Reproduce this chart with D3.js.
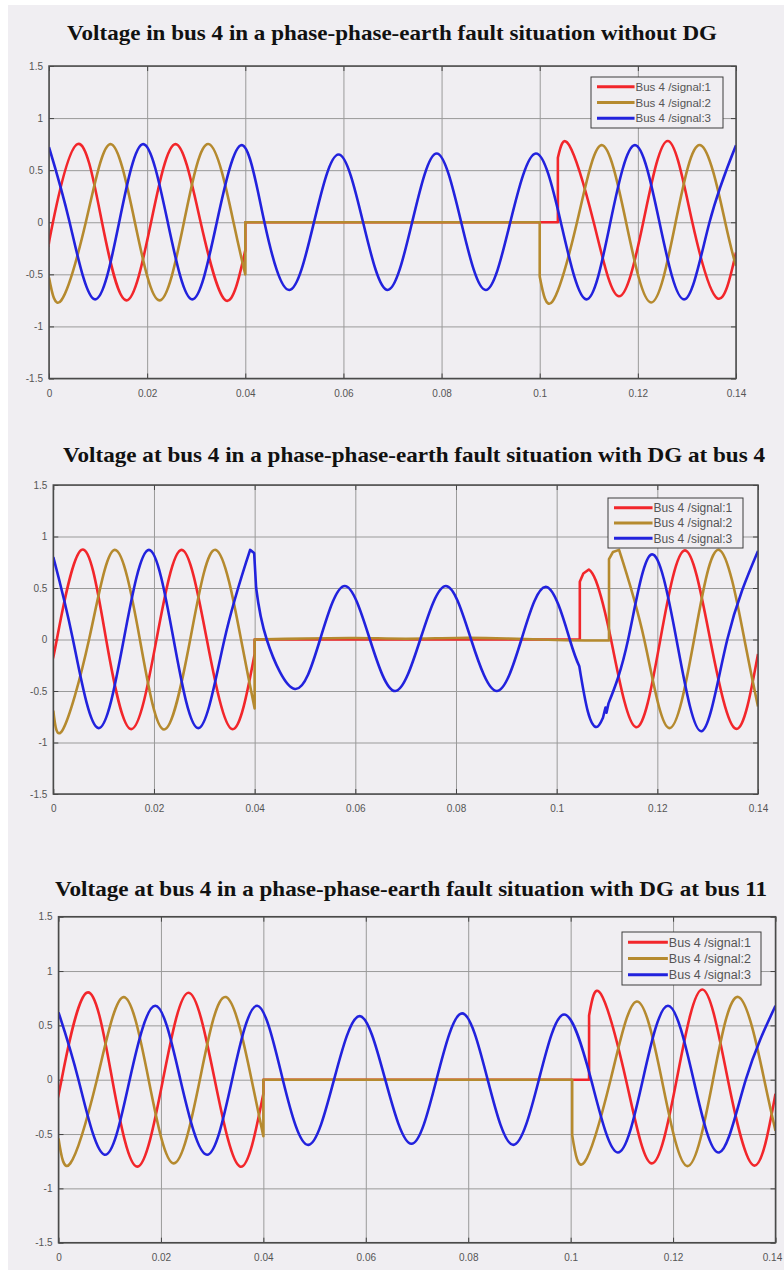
<!DOCTYPE html>
<html>
<head>
<meta charset="utf-8">
<script src="https://cdn.jsdelivr.net/npm/d3@7/dist/d3.min.js"></script>
<style>
    body { margin: 0; background: #ffffff; }
    svg { display: block; }
</style>
</head>
<body>
<svg id="chart" width="784" height="1270"></svg>
<script>
var titles = [
    'Voltage in bus 4 in a phase-phase-earth fault situation without DG',
    'Voltage at bus 4 in a phase-phase-earth fault situation with DG at bus 4',
    'Voltage at bus 4 in a phase-phase-earth fault situation with DG at bus 11'
];
var legendLabels = ['Bus 4 /signal:1', 'Bus 4 /signal:2', 'Bus 4 /signal:3'];
var xTicks = [0, 0.02, 0.04, 0.06, 0.08, 0.1, 0.12, 0.14];
var xTickLabels = ['0', '0.02', '0.04', '0.06', '0.08', '0.1', '0.12', '0.14'];
var yTicks = [-1.5, -1, -0.5, 0, 0.5, 1, 1.5];
var yTickLabels = ['-1.5', '-1', '-0.5', '0', '0.5', '1', '1.5'];

// each signal = list of pieces of [time (s), voltage].
// a piece is drawn smooth, pieces are joined by straight lines (the jumps)

// without DG
var noDgSignal1 = [
    [[0, -0.22], [0.0008, 0], [0.0058, 0.75], [0.0108, 0], [0.0158, -0.75], [0.0208, 0], [0.0258, 0.75], [0.0309, 0], [0.036, -0.75], [0.04, -0.27]],
    [[0.04, 0], [0.1037, 0]],
    [[0.1037, 0.62], [0.106, 0.74], [0.111, 0], [0.1161, -0.71], [0.1211, 0], [0.1261, 0.78], [0.1311, 0], [0.1362, -0.73], [0.14, -0.29]]
];
var noDgSignal2 = [
    [[0, -0.53], [0.0025, -0.75], [0.0075, 0], [0.0125, 0.75], [0.0175, 0], [0.0225, -0.75], [0.0275, 0], [0.0326, 0.75], [0.0376, 0], [0.04, -0.5]],
    [[0.04, 0], [0.1, 0]],
    [[0.1, -0.52], [0.1026, -0.76], [0.1076, 0], [0.1126, 0.74], [0.1176, 0], [0.1227, -0.77], [0.1277, 0], [0.1328, 0.74], [0.1378, 0], [0.14, -0.42]]
];
var noDgSignal3 = [
    [[0, 0.72], [0.0042, 0], [0.0093, -0.74], [0.0143, 0], [0.0192, 0.75], [0.0242, 0], [0.0292, -0.74], [0.0342, 0], [0.0393, 0.74], [0.0439, 0],
        [0.049, -0.65], [0.054, 0], [0.059, 0.65], [0.064, 0], [0.069, -0.65], [0.074, 0], [0.079, 0.66], [0.084, 0], [0.089, -0.65], [0.094, 0],
        [0.0992, 0.66], [0.1043, 0], [0.1095, -0.74], [0.1144, 0], [0.1194, 0.74], [0.1244, 0], [0.1295, -0.74], [0.1346, 0], [0.14, 0.74]]
];

// DG at bus 4
var dgBus4Signal1 = [
    [[0, -0.13], [0.0007, 0], [0.0056, 0.87], [0.0105, 0], [0.0155, -0.87], [0.0205, 0], [0.0255, 0.87], [0.0305, 0], [0.0355, -0.87], [0.04, -0.14]],
    [[0.04, 0], [0.1046, 0]],
    [[0.1046, 0.56]],
    [[0.1053, 0.64]],
    [[0.1064, 0.68], [0.1078, 0.57], [0.1108, 0], [0.1157, -0.85], [0.1206, 0], [0.1255, 0.865], [0.1305, 0], [0.1356, -0.867], [0.14, -0.14]]
];
var dgBus4Signal2 = [
    [[0, -0.69], [0.0019, -0.874], [0.0071, 0], [0.0122, 0.87], [0.0172, 0], [0.022, -0.874], [0.0272, 0], [0.0323, 0.87], [0.0373, 0], [0.04, -0.67]],
    [[0.04, 0], [0.05, 0.01], [0.06, 0.015], [0.07, 0.008], [0.08, 0.015], [0.09, 0.01], [0.1, -0.005], [0.1104, -0.01]],
    [[0.1104, 0.78]],
    [[0.1112, 0.85]],
    [[0.1124, 0.87], [0.1174, 0], [0.1223, -0.86], [0.1273, 0], [0.1323, 0.87], [0.1373, 0], [0.14, -0.65]]
];
var dgBus4Signal3 = [
    [[0, 0.8], [0.0039, 0], [0.0089, -0.86], [0.014, 0], [0.019, 0.87], [0.0239, 0], [0.0289, -0.86], [0.034, 0], [0.0391, 0.87]],
    [[0.0399, 0.84]],
    [[0.0403, 0.5], [0.0424, 0], [0.048, -0.48], [0.053, 0], [0.0579, 0.52], [0.0629, 0], [0.0679, -0.5], [0.0729, 0], [0.078, 0.52], [0.083, 0],
        [0.0881, -0.5], [0.093, 0], [0.098, 0.51], [0.1026, 0], [0.1045, -0.26]],
    [[0.1045, -0.26], [0.1062, -0.7], [0.1079, -0.85], [0.1092, -0.76]],
    [[0.1097, -0.66], [0.1099, -0.71]],
    [[0.1103, -0.62], [0.1142, 0], [0.1188, 0.825], [0.1238, 0], [0.1288, -0.89], [0.1339, 0], [0.14, 0.86]]
];

// DG at bus 11
var dgBus11Signal1 = [
    [[0, -0.11], [0.0006, 0], [0.0055, 0.8], [0.0105, 0], [0.0154, -0.8], [0.0204, 0], [0.0254, 0.8], [0.0305, 0], [0.0355, -0.8], [0.04, -0.13]],
    [[0.04, 0], [0.1036, 0]],
    [[0.1036, 0.59], [0.1059, 0.79], [0.1108, 0], [0.1158, -0.77], [0.1207, 0], [0.1257, 0.83], [0.1307, 0], [0.1358, -0.79], [0.14, -0.13]]
];
var dgBus11Signal2 = [
    [[0, -0.54], [0.0023, -0.77], [0.0075, 0], [0.0127, 0.76], [0.0176, 0], [0.0225, -0.77], [0.0276, 0], [0.0327, 0.76], [0.0377, 0], [0.04, -0.52]],
    [[0.04, 0], [0.1003, 0]],
    [[0.1003, -0.51], [0.1027, -0.76], [0.1078, 0], [0.1129, 0.72], [0.1178, 0], [0.1228, -0.795], [0.1278, 0], [0.1328, 0.76], [0.1378, 0], [0.14, -0.47]]
];
var dgBus11Signal3 = [
    [[0, 0.62], [0.0039, 0], [0.009, -0.69], [0.0139, 0], [0.0189, 0.68], [0.0238, 0], [0.029, -0.69], [0.0339, 0], [0.0388, 0.68], [0.0438, 0],
        [0.0488, -0.6], [0.0538, 0], [0.0588, 0.585], [0.0638, 0], [0.0689, -0.59], [0.0738, 0], [0.0788, 0.61], [0.0838, 0], [0.0888, -0.6], [0.0938, 0],
        [0.0987, 0.6], [0.104, 0], [0.1092, -0.67], [0.1141, 0], [0.119, 0.68], [0.124, 0], [0.129, -0.67], [0.1342, 0], [0.14, 0.68]]
];

var colors = ['#f2262b', '#b58a2f', '#2222dd'];
var bg = '#f0eef2';

// layout of the three scope windows
var panels = [
    {series: [noDgSignal1, noDgSignal2, noDgSignal3], left: 49, top: 66, right: 736, bottom: 378.5,
        titleX: 392, titleY: 40, titleW: 650, legend: {x: 591, y: 77, w: 132, h: 51, font: 11.5}},
    {series: [dgBus4Signal1, dgBus4Signal2, dgBus4Signal3], left: 53.3, top: 485, right: 758, bottom: 794,
        titleX: 414, titleY: 462, titleW: 702, legend: {x: 608, y: 498, w: 135, h: 50, font: 12}},
    {series: [dgBus11Signal1, dgBus11Signal2, dgBus11Signal3], left: 58.5, top: 916.7, right: 775.5, bottom: 1242.7,
        titleX: 411, titleY: 896, titleW: 712, legend: {x: 622, y: 932, w: 139, h: 53, font: 12.5}}
];

var svg = d3.select('#chart');

svg.append('rect')
    .attr('x', 8)
    .attr('y', 5)
    .attr('width', 776)
    .attr('height', 1265)
    .attr('fill', bg);

panels.forEach(function (p, pi) {
    var x = d3.scaleLinear().domain([0, 0.14]).range([p.left, p.right]);
    var y = d3.scaleLinear().domain([-1.5, 1.5]).range([p.bottom, p.top]);
    var w = p.right - p.left;
    var h = p.bottom - p.top;

    svg.append('text')
        .attr('x', p.titleX)
        .attr('y', p.titleY)
        .attr('text-anchor', 'middle')
        .attr('textLength', p.titleW)
        .attr('lengthAdjust', 'spacingAndGlyphs')
        .style('font-family', '"Liberation Serif", "Times New Roman", serif')
        .style('font-weight', 'bold')
        .style('font-size', '21px')
        .style('fill', '#111')
        .text(titles[pi]);

    // grid + tick labels
    var gx = svg.append('g')
        .attr('transform', 'translate(0,' + p.bottom + ')')
        .call(d3.axisBottom(x)
            .tickValues(xTicks)
            .tickSize(-h)
            .tickPadding(11)
            .tickFormat(function (d, i) { return xTickLabels[i]; }));
    var gy = svg.append('g')
        .attr('transform', 'translate(' + p.left + ',0)')
        .call(d3.axisLeft(y)
            .tickValues(yTicks)
            .tickSize(-w)
            .tickPadding(6)
            .tickFormat(function (d, i) { return yTickLabels[i]; }));

    [gx, gy].forEach(function (g) {
        g.select('.domain').remove();
        g.selectAll('line').attr('stroke', '#9a9a9a').attr('stroke-width', 1);
        g.selectAll('text')
            .style('font-family', '"Liberation Sans", Arial, sans-serif')
            .style('font-size', '10px')
            .style('fill', '#555');
    });

    // the last x label sits on the window edge, keep it inside the page
    gx.selectAll('text')
        .filter(function (d, i) { return i === xTicks.length - 1; })
        .attr('x', Math.min(0, 772 - p.right));

    // small inward ticks on all four sides
    var tickAxes = [
        [d3.axisBottom(x).tickValues(xTicks), 'translate(0,' + p.bottom + ')'],
        [d3.axisTop(x).tickValues(xTicks), 'translate(0,' + p.top + ')'],
        [d3.axisLeft(y).tickValues(yTicks), 'translate(' + p.left + ',0)'],
        [d3.axisRight(y).tickValues(yTicks), 'translate(' + p.right + ',0)']
    ];
    tickAxes.forEach(function (a) {
        var g = svg.append('g')
            .attr('transform', a[1])
            .call(a[0].tickSize(-5).tickFormat(''));
        g.select('.domain').remove();
        g.selectAll('line').attr('stroke', '#444').attr('stroke-width', 1);
    });

    svg.append('clipPath')
        .attr('id', 'clip' + pi)
        .append('rect')
        .attr('x', p.left)
        .attr('y', p.top)
        .attr('width', w)
        .attr('height', h);

    var line = d3.line()
        .x(function (d) { return x(d[0]); })
        .y(function (d) { return y(d[1]); })
        .curve(d3.curveNatural);

    svg.append('g')
        .attr('clip-path', 'url(#clip' + pi + ')')
        .selectAll('path')
        .data(p.series)
        .enter()
        .append('path')
        .attr('fill', 'none')
        .attr('stroke', function (d, i) { return colors[i]; })
        .attr('stroke-width', 2.6)
        .attr('stroke-linejoin', 'round')
        .attr('d', function (segs) {
            return segs.map(function (s, i) {
                // a one-point piece comes back closed ("Z"), drop that
                var path = line(s).replace(/Z$/, '');
                return i ? 'L' + path.slice(1) : path;
            }).join('');
        });

    // plot frame
    svg.append('rect')
        .attr('x', p.left)
        .attr('y', p.top)
        .attr('width', w)
        .attr('height', h)
        .attr('fill', 'none')
        .attr('stroke', '#4a4a4a')
        .attr('stroke-width', 1.5);

    var lg = p.legend;
    var legend = svg.append('g')
        .attr('transform', 'translate(' + lg.x + ',' + lg.y + ')');

    legend.append('rect')
        .attr('width', lg.w)
        .attr('height', lg.h)
        .attr('fill', bg)
        .attr('stroke', '#3c3c3c')
        .attr('stroke-width', 1);

    var rowH = (lg.h - 4) / 3;
    var row = legend.selectAll('.legend')
        .data(legendLabels)
        .enter()
        .append('g')
        .attr('class', 'legend')
        .attr('transform', function (d, i) {
            return 'translate(0,' + (2 + rowH * (i + 0.5)) + ')';
        });

    row.append('line')
        .attr('x1', 6)
        .attr('x2', lg.w * 0.33)
        .attr('stroke', function (d, i) { return colors[i]; })
        .attr('stroke-width', 3);

    row.append('text')
        .attr('x', lg.w * 0.33 + 1)
        .attr('dy', '0.35em')
        .style('font-family', '"Liberation Sans", Arial, sans-serif')
        .style('font-size', lg.font + 'px')
        .style('fill', '#555')
        .text(function (d) { return d; });
});
</script>
</body>
</html>
